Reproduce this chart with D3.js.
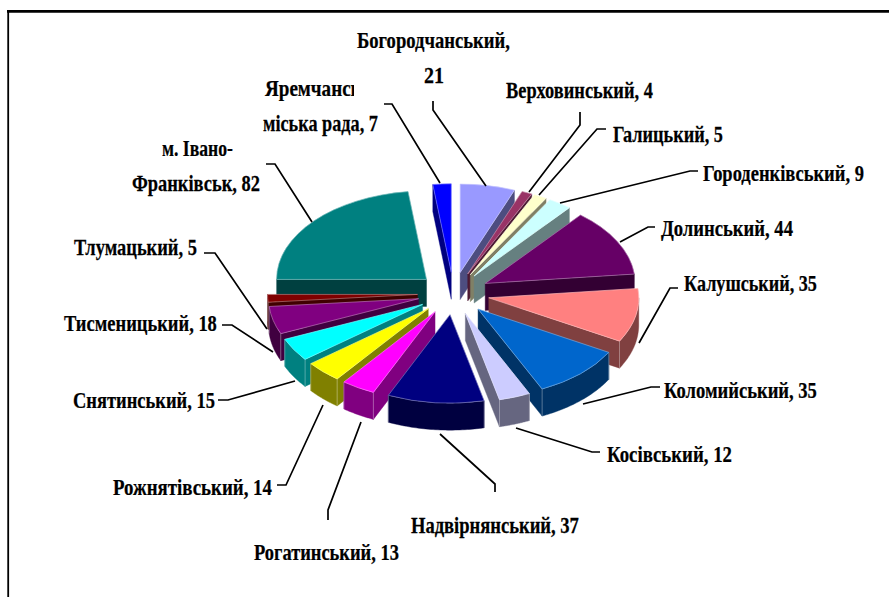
<!DOCTYPE html>
<html><head><meta charset="utf-8">
<script src="https://cdn.jsdelivr.net/npm/d3@7"></script>
<style>html,body{margin:0;background:#fff}svg{display:block}
text{font-family:"Liberation Serif",serif;font-weight:bold;font-size:24px;fill:#000;stroke:#000;stroke-width:0.25}</style></head>
<body><div id="c"></div>
<script>
const districts=["Богородчанський","Верховинський","Галицький","Городенківський","Долинський","Калушський","Коломийський","Косівський","Надвірнянський","Рогатинський","Рожнятівський","Снятинський","Тисменицький","Тлумацький","м. Івано-Франківськ","Яремчанська міська рада"];
const counts=[21,4,5,9,44,35,35,12,37,13,14,15,18,5,82,7];
const colours=["#9999FF","#993366","#FFFFCC","#CCFFFF","#660066","#FF8080","#0066CC","#CCCCFF","#000080","#FF00FF","#FFFF00","#00FFFF","#800080","#800000","#008080","#0000FF"];
// label lines
const labelLines=[["Богородчанський,","21"],["Верховинський, 4"],["Галицький, 5"],["Городенківський, 9"],["Долинський, 44"],["Калушський, 35"],["Коломийський, 35"],["Косівський, 12"],["Надвірнянський, 37"],["Рогатинський, 13"],["Рожнятівський, 14"],["Снятинський, 15"],["Тисменицький, 18"],["Тлумацький, 5"],["м. Івано-","Франківськ, 82"],["Яремчанська","міська рада, 7"]];
// layout: [x, baseline, width] per line
const labelBoxes=[[[357,48,153],[424,83,20]],[[506,98,147]],[[613,142,110]],[[703,181,161]],[[661,236,132]],[[684,291,133]],[[664,398,153]],[[607,462,125]],[[411,533,168]],[[254,560,145]],[[113,495,159]],[[73,408,142]],[[64,331,153]],[[74,255,123]],[[162,156,71],[132,191,128]],[[265,96,116],[263,131,115]]];
const leaderPaths=[[[433,101],[433,110],[486,186]],[[580,112],[580,125],[529,192]],[[606,129],[597,129],[539,195]],[[698,171],[690,171],[560,203]],[[655,227],[648,227],[620,242]],[[678,288],[670,288],[639,343]],[[660,387],[651,387],[583,404]],[[600,452],[592,452],[516,428]],[[495,492],[495,484],[440,434]],[[328,520],[328,510],[361,422]],[[277,485],[286,485],[323,405]],[[218,400],[228,400],[295,381]],[[222,325],[232,325],[273,352]],[[204,253],[215,253],[267,329]],[[266,164],[275,164],[312,222]],[[384,104],[392,104],[440,183]]];

const W=889,H=597,cx=453.5,cy=293.5,R=150,squash=0.59,depth=27,explode=36;
const svg=d3.select("#c").append("svg").attr("width",W).attr("height",H);
const frame=svg.append("g").attr("stroke","#000").attr("fill","none");
frame.append("line").attr("x1",7).attr("y1",11.3).attr("x2",889).attr("y2",11.3).attr("stroke-width",2.7);
frame.append("line").attr("x1",8.2).attr("y1",10).attr("x2",8.2).attr("y2",597).attr("stroke-width",1.8);

const pie=d3.pie().sort(null).value(d=>d);
const arcs=pie(counts).map((a,i)=>({...a,i}));
const arcGen=d3.arc().innerRadius(0).outerRadius(R);
const shade=(c,k)=>{const q=d3.rgb(c);return d3.rgb(q.r*k,q.g*k,q.b*k).formatHex();};
const soft=c=>d3.interpolateRgb(c,"#fff")(0.45);
const pt=(x0,y0,r,t,dz=0)=>[x0+r*Math.sin(t),y0-squash*r*Math.cos(t)+dz];

const order=arcs.slice().sort((a,b)=>{
  const m=s=>(s.startAngle+s.endAngle)/2;
  return Math.sin(m(a)-Math.PI/2)-Math.sin(m(b)-Math.PI/2)||0;
});
const pieG=svg.append("g");
order.forEach(s=>{
  const mid=(s.startAngle+s.endAngle)/2;
  const ox=cx+explode*Math.sin(mid), oy=cy-squash*explode*Math.cos(mid);
  const g=pieG.append("g");
  const col=colours[s.i], dark=shade(col,0.5);
  const wall=(pts,fill)=>g.append("path").attr("d",d3.line()(pts)+"Z").attr("fill",fill).attr("stroke",dark).attr("stroke-width",0.4);
  const radial=t=>{const p=pt(ox,oy,R,t);wall([[ox,oy],p,[p[0],p[1]+depth],[ox,oy+depth]],dark);};
  if(Math.sin(s.endAngle)>0) radial(s.endAngle);
  if(Math.sin(s.startAngle)<0) radial(s.startAngle);
  const a0=Math.max(s.startAngle,Math.PI/2),a1=Math.min(s.endAngle,3*Math.PI/2);
  if(a1>a0){
    const ts=d3.range(0,41).map(k=>a0+(a1-a0)*k/40);
    const upper=ts.map(t=>pt(ox,oy,R,t)),lower=ts.map(t=>pt(ox,oy,R,t,depth)).reverse();
    wall(upper.concat(lower),dark);
  }
  [s.startAngle,s.endAngle].forEach(t=>{
    if(Math.cos(t)<0.05){const p=pt(ox,oy,R,t);
      g.append("line").attr("x1",p[0]).attr("y1",p[1]).attr("x2",p[0]).attr("y2",p[1]+depth).attr("stroke",soft(dark)).attr("stroke-width",0.7);}
  });
  g.append("path").attr("d",arcGen(s))
    .attr("transform",`translate(${ox},${oy}) scale(1,${squash})`)
    .attr("fill",col).attr("stroke",soft(col)).attr("stroke-width",0.7).attr("vector-effect","non-scaling-stroke");
});

const leaders=svg.append("g").attr("fill","none").attr("stroke","#000").attr("stroke-width",1.7);
leaderPaths.forEach(p=>leaders.append("path").attr("d",d3.line()(p)));

const clip=svg.append("defs").append("clipPath").attr("id","yar");
clip.append("rect").attr("x",255).attr("y",70).attr("width",99).attr("height",36);

const labels=svg.append("g");
labelLines.forEach((lines,i)=>lines.forEach((t,j)=>{
  const [x,y,w]=labelBoxes[i][j];
  const holder=labels.append("g");
  if(t==="Яремчанська") holder.attr("clip-path","url(#yar)");
  const el=holder.append("text").text(t);
  const k=w/el.node().getComputedTextLength();
  el.attr("transform",`translate(${x},${y}) scale(${k},1)`);
}));
</script></body></html>
